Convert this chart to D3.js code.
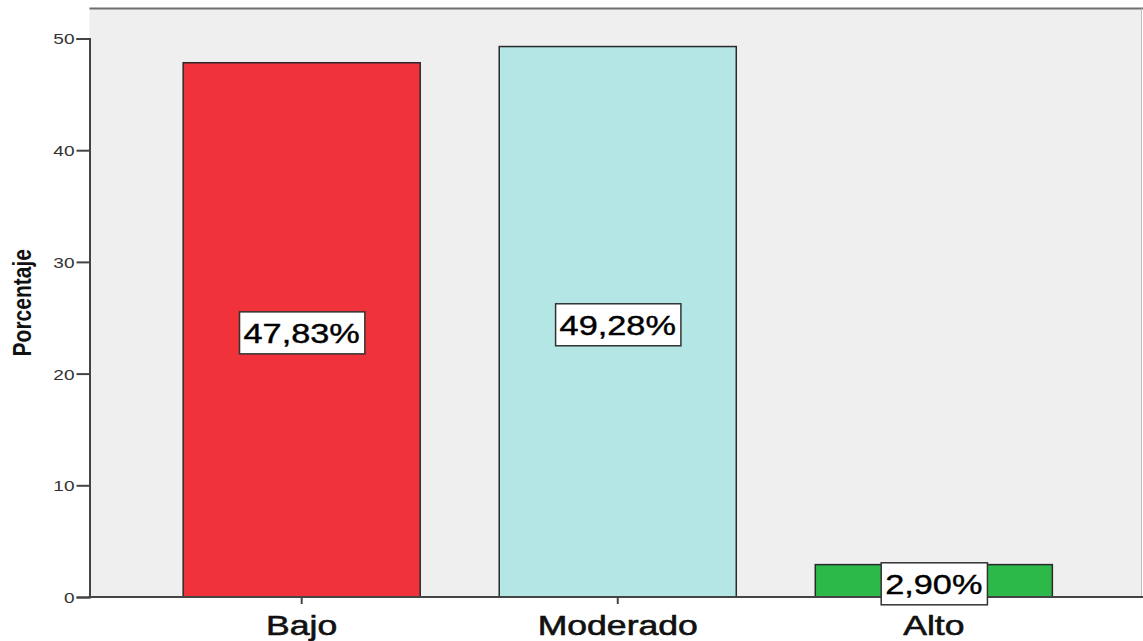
<!DOCTYPE html>
<html>
<head>
<meta charset="utf-8">
<script src="https://cdn.jsdelivr.net/npm/d3@7"></script>
<style>
  body { margin: 0; background: #fff; }
  text { font-family: "Liberation Sans", Arial, sans-serif; }
</style>
</head>
<body>
<svg id="chart" width="1143" height="641"></svg>
<script>
// data
const categories = ['Bajo', 'Moderado', 'Alto'];
const percents = [47.83, 49.28, 2.90];
const barColors = ['#f0323a', '#b4e6e6', '#2db84a'];
const yTicks = [0, 10, 20, 30, 40, 50];

const W = 1143, H = 641;
const margin = {top: 8.5, right: 1, left: 89.5, bottom: 44};
const stretch = 1.27; // the picture is stretched sideways

const svg = d3.select('#chart');

const x = d3.scaleBand()
  .domain(categories)
  .range([margin.left + 2, W - margin.right + 2])
  .paddingInner(0.25)
  .paddingOuter(0.29);

const y = d3.scaleLinear()
  .domain([0, 50])
  .range([H - margin.bottom, H - margin.bottom - 50 * 11.17]);

// plot background + frame
svg.append('rect')
  .attr('x', margin.left).attr('y', margin.top)
  .attr('width', W - margin.right - margin.left)
  .attr('height', y(0) - margin.top)
  .attr('fill', '#efefef');
svg.append('line')
  .attr('x1', margin.left).attr('x2', W)
  .attr('y1', margin.top).attr('y2', margin.top)
  .attr('stroke', '#6e6e6e').attr('stroke-width', 2);
svg.append('line')
  .attr('x1', W - 1.5).attr('x2', W - 1.5)
  .attr('y1', margin.top).attr('y2', y(0))
  .attr('stroke', '#bdbdbd').attr('stroke-width', 1);

// bars
svg.selectAll('rect.bar')
  .data(categories)
  .enter().append('rect')
  .attr('class', 'bar')
  .attr('x', d => x(d))
  .attr('y', (d, i) => y(percents[i]))
  .attr('width', x.bandwidth())
  .attr('height', (d, i) => y(0) - y(percents[i]))
  .attr('fill', (d, i) => barColors[i])
  .attr('stroke', '#2a2a2a')
  .attr('stroke-width', 1.5);

// y axis
const yAxis = d3.axisLeft(y).tickValues(yTicks).tickSize(13).tickPadding(2);
const gy = svg.append('g')
  .attr('transform', `translate(${margin.left},0)`)
  .call(yAxis);
gy.select('.domain').attr('stroke', '#444').attr('stroke-width', 2);
gy.selectAll('.tick line').attr('stroke', '#444').attr('stroke-width', 2);
gy.selectAll('.tick text')
  .attr('font-size', 15).attr('fill', '#333')
  .attr('font-family', '"Liberation Sans", Arial, sans-serif')
  .each(function() {
    const t = d3.select(this);
    const tx = +t.attr('x');
    t.attr('x', null).attr('dy', '0.36em')
      .attr('transform', `translate(${tx},0) scale(${stretch},1)`);
  });

// x axis
const xAxis = d3.axisBottom(x).tickSize(7).tickSizeOuter(0).tickPadding(0);
const gx = svg.append('g')
  .attr('transform', `translate(0,${y(0)})`)
  .call(xAxis);
gx.select('.domain').attr('stroke', '#444').attr('stroke-width', 2)
  .attr('d', `M${margin.left - 1},0H${W}`);
gx.selectAll('.tick line').attr('stroke', '#444').attr('stroke-width', 2);
gx.selectAll('.tick text')
  .attr('font-size', 28).attr('fill', '#111')
  .attr('stroke', '#111').attr('stroke-width', 0.6)
  .attr('font-family', '"Liberation Sans", Arial, sans-serif')
  .attr('y', null).attr('dy', null)
  .attr('transform', `translate(0,38) scale(${stretch},1)`);

// value labels
const labels = svg.selectAll('g.lab')
  .data(categories)
  .enter().append('g')
  .attr('class', 'lab')
  .attr('transform', (d, i) =>
    `translate(${x(d) + x.bandwidth() / 2},${y(percents[i] / 2) + 3})`);

labels.each(function(d, i) {
  const g = d3.select(this);
  const rect = g.append('rect');
  const t = g.append('text')
    .attr('text-anchor', 'middle')
    .attr('font-size', 27)
    .attr('fill', '#000')
    .attr('stroke', '#000').attr('stroke-width', 0.4)
    .attr('dy', '0.36em')
    .attr('transform', `scale(${stretch},1)`)
    .text(percents[i].toFixed(2).replace('.', ',') + '%');
  const w = t.node().getComputedTextLength() * stretch;
  rect.attr('x', -w / 2 - 4).attr('y', -21)
    .attr('width', w + 9).attr('height', 42)
    .attr('fill', '#fff').attr('stroke', '#333').attr('stroke-width', 1.5);
});

// y title
svg.append('text')
  .attr('transform', `translate(31,${(y(0) + margin.top) / 2}) scale(${stretch},1) rotate(-90)`)
  .attr('text-anchor', 'middle')
  .attr('font-size', 21)
  .attr('font-weight', 'bold')
  .attr('fill', '#111')
  .text('Porcentaje');
</script>
</body>
</html>
